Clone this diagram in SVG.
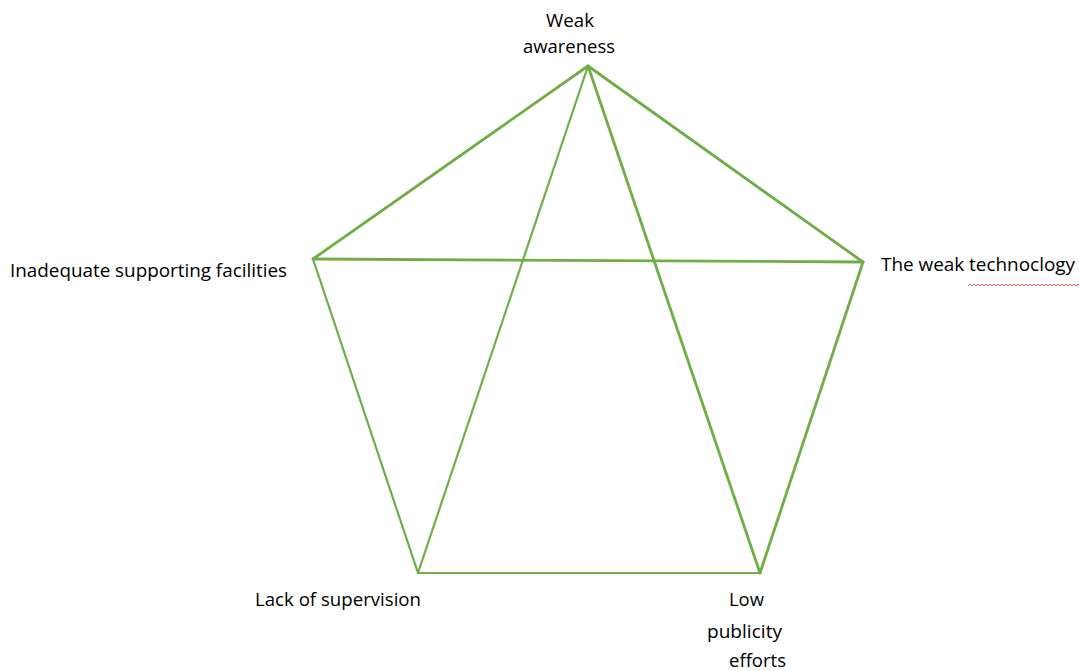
<svg xmlns="http://www.w3.org/2000/svg" width="1079" height="671" viewBox="0 0 1079 671">
<style>
.lbl{font-family:"Open Sans","Liberation Sans",Arial,sans-serif;font-size:18px;fill:#000}
.c{stroke:#70ad47;stroke-width:2.2;fill:none;stroke-linecap:round}
.t{stroke-width:2.8}
</style>
<rect width="1079" height="671" fill="#fff"/>
<g id="connectors">
<line class="c t" x1="588" y1="66" x2="313" y2="259"/>
<line class="c t" x1="588" y1="66" x2="863" y2="262"/>
<line class="c t" x1="313" y1="259" x2="863" y2="262"/>
<line class="c" x1="313" y1="259" x2="418" y2="573"/>
<line class="c" x1="418" y1="573" x2="760" y2="573"/>
<line class="c t" x1="863" y1="262" x2="760" y2="573"/>
<line class="c" x1="588" y1="66" x2="418" y2="573"/>
<line class="c t" x1="588" y1="66" x2="760" y2="573"/>
</g>
<g id="node-weak-awareness">
<text class="lbl" x="546" y="27" textLength="48" lengthAdjust="spacingAndGlyphs">Weak</text>
<text class="lbl" x="523" y="53" textLength="92" lengthAdjust="spacingAndGlyphs">awareness</text>
</g>
<g id="node-inadequate">
<text class="lbl" x="10" y="277" textLength="277" lengthAdjust="spacingAndGlyphs">Inadequate supporting facilities</text>
</g>
<g id="node-technology">
<text class="lbl" x="881" y="271" textLength="194" lengthAdjust="spacingAndGlyphs">The weak technoclogy</text>
<path d="M968 286 l2 -2 l2 2 l2 -2 l2 2 l2 -2 l2 2 l2 -2 l2 2 l2 -2 l2 2 l2 -2 l2 2 l2 -2 l2 2 l2 -2 l2 2 l2 -2 l2 2 l2 -2 l2 2 l2 -2 l2 2 l2 -2 l2 2 l2 -2 l2 2 l2 -2 l2 2 l2 -2 l2 2 l2 -2 l2 2 l2 -2 l2 2 l2 -2 l2 2 l2 -2 l2 2 l2 -2 l2 2 l2 -2 l2 2 l2 -2 l2 2 l2 -2 l2 2 l2 -2 l2 2 l2 -2 l2 2 l2 -2 l2 2 l2 -2 l2 2 l2 -2 l2 2" stroke="#e33" stroke-width="0.8" fill="none"/>
</g>
<g id="node-supervision">
<text class="lbl" x="255" y="606" textLength="166" lengthAdjust="spacingAndGlyphs">Lack of supervision</text>
</g>
<g id="node-publicity">
<text class="lbl" x="729" y="606" textLength="35" lengthAdjust="spacingAndGlyphs">Low</text>
<text class="lbl" x="707" y="638" textLength="75" lengthAdjust="spacingAndGlyphs">publicity</text>
<text class="lbl" x="729" y="667" textLength="57" lengthAdjust="spacingAndGlyphs">efforts</text>
</g>
</svg>
